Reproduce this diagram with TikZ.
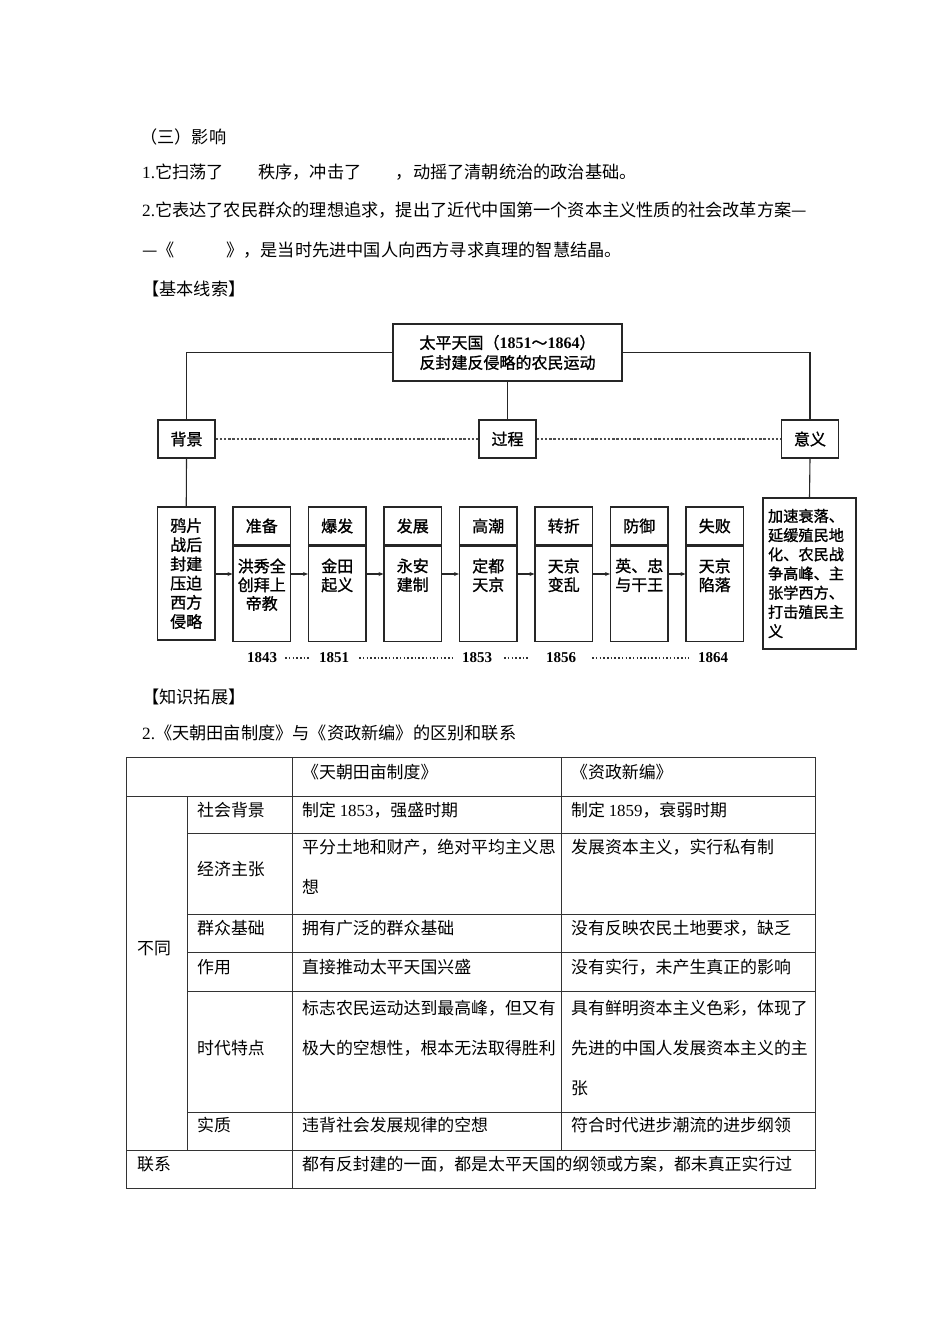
\documentclass[tikz,border=0pt]{standalone}
\usepackage{fontspec}
\setmainfont{Noto Sans CJK SC}
\newfontfamily\latfont{Liberation Serif}
\newfontfamily\diagfont[FakeBold=1.2]{Noto Sans CJK SC}
\newcommand\lat[1]{{\latfont #1}}
\usetikzlibrary{positioning,arrows.meta}

\begin{document}
\begin{tikzpicture}[x=1pt,y=-1pt,every node/.style={inner sep=0pt}]
    \tikzstyle{bodytext}=[anchor=west,font=\fontsize{17.2}{20}\selectfont]
    \tikzstyle{diagbox}=[draw=black!85,line width=1.1pt,align=center,font=\diagfont\fontsize{16}{19}\selectfont]
    \tikzstyle{rootbox}=[diagbox,minimum width=229pt,minimum height=57pt,font=\diagfont\fontsize{16}{20}\selectfont]
    \tikzstyle{partbox}=[diagbox,minimum width=57pt,minimum height=38pt]
    \tikzstyle{stagehead}=[diagbox,minimum width=57.5pt,minimum height=38pt]
    \tikzstyle{stagebody}=[diagbox,minimum width=57.5pt,minimum height=95pt]
    \tikzstyle{stagetext}=[align=center,font=\diagfont\fontsize{16}{18.7}\selectfont]
    \tikzstyle{bgbox}=[diagbox,minimum width=57.5pt,minimum height=133pt,font=\diagfont\fontsize{16}{19.2}\selectfont]
    \tikzstyle{sigbox}=[diagbox,align=left,text width=83pt,inner xsep=5pt,minimum height=151pt,font=\diagfont\fontsize{15.2}{19.2}\selectfont]
    \tikzstyle{treeline}=[draw=black!85,line width=1.1pt]
    \tikzstyle{linkline}=[draw=black!70,line width=1.2pt,dash pattern=on 2.4pt off 1.8pt]
    \tikzstyle{flowarrow}=[draw=black!85,line width=1.1pt,-{Stealth[length=5pt,width=4pt]}]
    \tikzstyle{yearlabel}=[font=\latfont\bfseries\fontsize{15}{18}\selectfont]
    \tikzstyle{leaderline}=[draw=black!80,line width=1.5pt,dash pattern=on 1.5pt off 2.2pt]
    \tikzstyle{tablerule}=[draw=black!80,line width=0.9pt]
    \tikzstyle{cell}=[anchor=west,font=\fontsize{16.9}{20}\selectfont]
    \tikzstyle{cellblock}=[anchor=north west,align=left,font=\fontsize{16.9}{40}\selectfont]

    \fill[white] (0,0) rectangle (950,1344);
    \useasboundingbox (0,0) rectangle (950,1344);

    % text above the diagram
    \node[bodytext] (sec3) at (140,137) {（三）影响};
    \node[bodytext] (imp1) at (142,172) {\lat{1.}它扫荡了\hspace*{2em}秩序，冲击了\hspace*{2em}，动摇了清朝统治的政治基础。};
    \node[bodytext] (imp2) at (142,210) {\lat{2.}它表达了农民群众的理想追求，提出了近代中国第一个资本主义性质的社会改革方案—};
    \node[bodytext] (imp2b) at (142,250) {—《\hspace*{3em}》，是当时先进中国人向西方寻求真理的智慧结晶。};
    \node[bodytext] (clue) at (142,289) {【基本线索】};

    % diagram
    \node[rootbox] (root) at (507.5,352.5) {太平天国（\lat{\bfseries 1851}～\lat{\bfseries 1864}）\\反封建反侵略的农民运动};
    \node[partbox] (bj) at (186.5,439) {背景};
    \node[partbox] (gc) at (507.5,439) {过程};
    \node[partbox] (yy) at (810,439) {意义};

    \draw[treeline] (root.west) -| (bj.north);
    \draw[treeline] (root.east) -| (yy.north);
    \draw[treeline] (root.south) -- (gc.north);
    \draw[linkline] (bj.east) -- (gc.west);
    \draw[linkline] (gc.east) -- (yy.west);

    \node[bgbox] (b0) at (186.25,573.5) {鸦片\\战后\\封建\\压迫\\西方\\侵略};
    \node[sigbox] (sig) at (809.5,573.5) {加速衰落、\\延缓殖民地\\化、农民战\\争高峰、主\\张学西方、\\打击殖民主\\义};
    \draw[treeline] (bj.south) -- (b0.north);
    \draw[treeline] (yy.south) -- (sig.north);

    \coordinate (arrowrow) at (0,574);
    \foreach \hd/\bd [count=\i] in {准备/洪秀全\\创拜上\\帝教, 爆发/金田\\起义, 发展/永安\\建制,
        高潮/定都\\天京, 转折/天京\\变乱, 防御/英、忠\\与干王, 失败/天京\\陷落}
    {
        \pgfmathtruncatemacro\j{\i-1}
        \node[stagehead] (h\i) at ({186.25+75.5*\i},526) {\hd};
        \node[stagebody,below=0pt of h\i] (b\i) {};
        \node[stagetext,below=12.8pt of b\i.north] (t\i) {\bd};
        \draw[flowarrow] (b\j.east |- arrowrow) -- (b\i.west |- arrowrow);
    }

    \node[yearlabel] (y1843) at (262,658) {1843};
    \node[yearlabel] (y1851) at (334,658) {1851};
    \node[yearlabel] (y1853) at (477,658) {1853};
    \node[yearlabel] (y1856) at (561,658) {1856};
    \node[yearlabel] (y1864) at (713,658) {1864};
    \foreach \a/\b/\s/\e in {y1843/y1851/8/10, y1851/y1853/10/10, y1853/y1856/12/17, y1856/y1864/16/9}
        \draw[leaderline,shorten <=\s pt,shorten >=\e pt] (\a.east) -- (\b.west);

    % text below the diagram
    \node[bodytext] (ext) at (142,697) {【知识拓展】};
    \node[bodytext] (ext2) at (142,733) {\lat{2.}《天朝田亩制度》与《资政新编》的区别和联系};

    % table
    \draw[tablerule] (126,757) rectangle (815,1188);
    \draw[tablerule] (126,796) -- (815,796);
    \draw[tablerule] (126,1150) -- (815,1150);
    \foreach \r in {833,914,952,991,1112}
        \draw[tablerule] (187,\r) -- (815,\r);
    \draw[tablerule] (187,796) -- (187,1150);
    \draw[tablerule] (292,757) -- (292,1188);
    \draw[tablerule] (561,757) -- (561,1150);

    \node[cell] (hd1) at (302,772) {《天朝田亩制度》};
    \node[cell] (hd2) at (571,772) {《资政新编》};
    \node[cell] (diff) at (137,949) {不同};
    \node[cell] (r1a) at (197,810) {社会背景};
    \node[cell] (r1b) at (302,810) {制定 \lat{1853}，强盛时期};
    \node[cell] (r1c) at (571,810) {制定 \lat{1859}，衰弱时期};
    \node[cell] (r2a) at (197,869) {经济主张};
    \node[cellblock] (r2b) at (302,839.4) {平分土地和财产，绝对平均主义思\\想};
    \node[cell] (r2c) at (571,847) {发展资本主义，实行私有制};
    \node[cell] (r3a) at (197,928) {群众基础};
    \node[cell] (r3b) at (302,928) {拥有广泛的群众基础};
    \node[cell] (r3c) at (571,928) {没有反映农民土地要求，缺乏};
    \node[cell] (r4a) at (197,967) {作用};
    \node[cell] (r4b) at (302,967) {直接推动太平天国兴盛};
    \node[cell] (r4c) at (571,967) {没有实行，未产生真正的影响};
    \node[cell] (r5a) at (197,1048) {时代特点};
    \node[cellblock] (r5b) at (302,1000.4) {标志农民运动达到最高峰，但又有\\极大的空想性，根本无法取得胜利};
    \node[cellblock] (r5c) at (571,1000.4) {具有鲜明资本主义色彩，体现了\\先进的中国人发展资本主义的主\\张};
    \node[cell] (r6a) at (197,1125) {实质};
    \node[cell] (r6b) at (302,1125) {违背社会发展规律的空想};
    \node[cell] (r6c) at (571,1125) {符合时代进步潮流的进步纲领};
    \node[cell] (lx) at (137,1164) {联系};
    \node[cell] (r7b) at (302,1164) {都有反封建的一面，都是太平天国的纲领或方案，都未真正实行过};
\end{tikzpicture}
\end{document}
